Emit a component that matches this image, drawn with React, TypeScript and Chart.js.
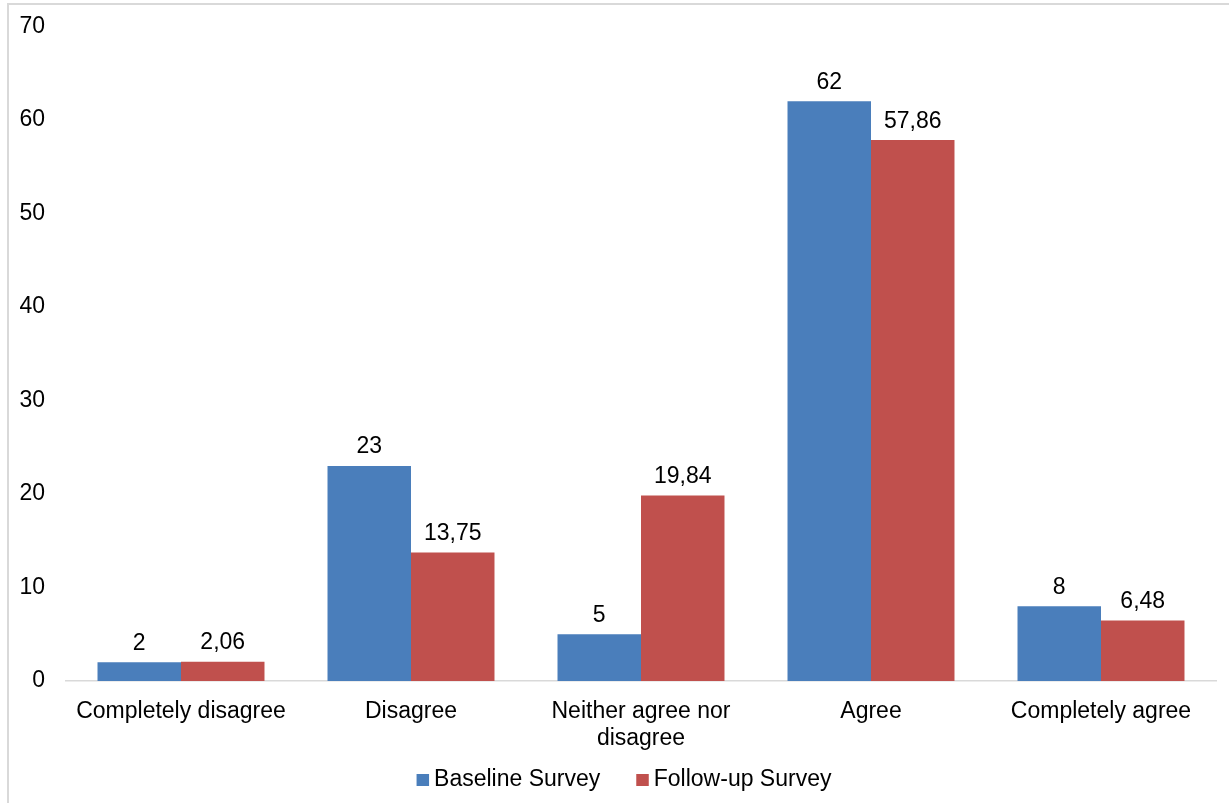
import React, { useEffect, useRef } from "react";
import { Chart, registerables } from "chart.js";

Chart.register(...registerables);

const categories: (string | string[])[] = [
  "Completely disagree",
  "Disagree",
  ["Neither agree nor", "disagree"],
  "Agree",
  "Completely agree",
];
const baselineSurvey = [2, 23, 5, 62, 8];
const followUpSurvey = [2.06, 13.75, 19.84, 57.86, 6.48];
const seriesNames = ["Baseline Survey", "Follow-up Survey"];
const yTicks = { min: 0, max: 70, step: 10 };

const BLUE = "#4A7EBB";
const RED = "#C0504D";
const FONT = "'Liberation Sans', Arial, sans-serif";
const FONT_SIZE = 23;

// Comma decimal separator for the value labels
const fmt = (v: number) => String(v).replace(".", ",");

// Value printed above each bar
const valueLabels = {
  id: "valueLabels",
  afterDatasetsDraw(chart: Chart) {
    const { ctx } = chart;
    ctx.save();
    ctx.font = `${FONT_SIZE}px ${FONT}`;
    ctx.fillStyle = "#000";
    ctx.textAlign = "center";
    ctx.textBaseline = "alphabetic";
    chart.data.datasets.forEach((ds, i) => {
      const meta = chart.getDatasetMeta(i);
      meta.data.forEach((el: any, j: number) => {
        const v = ds.data[j] as number;
        ctx.fillText(fmt(v), el.x, el.y - 12.5);
      });
    });
    ctx.restore();
  },
};

// Compact legend row under the category axis
const bottomLegend = {
  id: "bottomLegend",
  afterDraw(chart: Chart) {
    const { ctx } = chart;
    ctx.save();
    ctx.font = `${FONT_SIZE}px ${FONT}`;
    ctx.textBaseline = "alphabetic";
    ctx.textAlign = "left";
    const box = 12.5;
    const gap = 5;
    const between = 36;
    const items = chart.data.datasets.map((ds) => ({
      label: ds.label as string,
      color: ds.backgroundColor as string,
      w: ctx.measureText(ds.label as string).width,
    }));
    const total =
      items.reduce((s, it) => s + box + gap + it.w, 0) +
      between * (items.length - 1);
    const centerX = chart.width / 2 + 9.5;
    const baseline = 786;
    let x = centerX - total / 2;
    items.forEach((it) => {
      ctx.fillStyle = it.color;
      ctx.fillRect(x, baseline - 12, box, 12);
      x += box + gap;
      ctx.fillStyle = "#000";
      ctx.fillText(it.label, x, baseline);
      x += it.w + between;
    });
    ctx.restore();
  },
};

export default function App() {
  const ref = useRef<HTMLCanvasElement>(null);

  useEffect(() => {
    if (!ref.current) return;
    Chart.defaults.font.family = FONT;
    Chart.defaults.color = "#000";
    const chart = new Chart(ref.current, {
      type: "bar",
      data: {
        labels: categories,
        datasets: [
          {
            label: seriesNames[0],
            data: baselineSurvey,
            backgroundColor: BLUE,
            categoryPercentage: 0.726,
            barPercentage: 1,
          },
          {
            label: seriesNames[1],
            data: followUpSurvey,
            backgroundColor: RED,
            categoryPercentage: 0.726,
            barPercentage: 1,
          },
        ],
      },
      options: {
        responsive: false,
        animation: false,
        layout: { padding: { top: 26.5, right: 13, left: 20, bottom: 22 } },
        plugins: {
          legend: { display: false },
          tooltip: { enabled: false },
        },
        scales: {
          x: {
            grid: { display: false, drawTicks: false },
            border: { display: true, color: "#d9d9d9", width: 1.5 },
            ticks: {
              padding: 17,
              font: { size: FONT_SIZE, lineHeight: 27 / FONT_SIZE },
              color: "#000",
              maxRotation: 0,
              autoSkip: false,
            },
            afterFit(scale: any) {
              scale.height = 100;
            },
          },
          y: {
            min: yTicks.min,
            max: yTicks.max,
            grid: { display: false, drawTicks: false },
            border: { display: false },
            ticks: {
              stepSize: yTicks.step,
              padding: 21,
              font: { size: FONT_SIZE },
              color: "#000",
            },
            afterFit(scale: any) {
              scale.width = 46;
              scale.paddingTop = 0;
              scale.paddingBottom = 0;
            },
          },
        },
      },
      plugins: [valueLabels, bottomLegend],
    });
    return () => chart.destroy();
  }, []);

  return (
    <div
      style={{
        position: "absolute",
        left: 0,
        top: 0,
        width: 1229,
        height: 803,
        background: "#fff",
        overflow: "hidden",
      }}
    >
      <div
        style={{
          position: "absolute",
          left: 7,
          top: 3,
          right: -4,
          bottom: -4,
          borderTop: "2px solid #d9d9d9",
          borderLeft: "2px solid #d9d9d9",
        }}
      />
      <canvas
        ref={ref}
        width={1229}
        height={803}
        style={{ position: "absolute", left: 0, top: 0 }}
      />
    </div>
  );
}
